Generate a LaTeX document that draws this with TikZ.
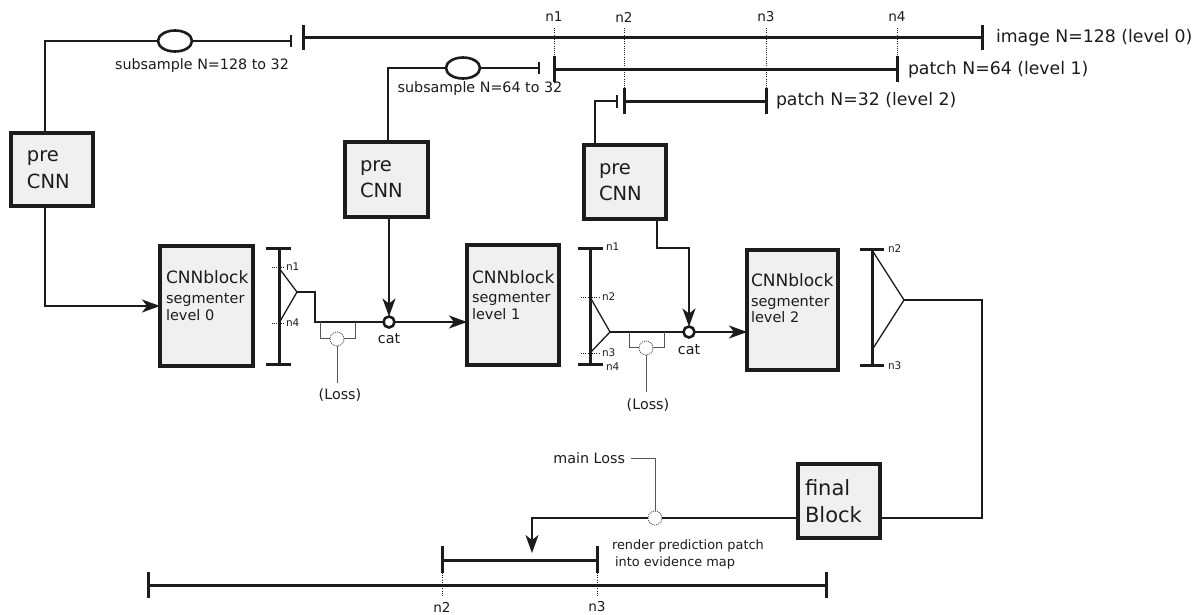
\documentclass[tikz,border=0pt]{standalone}
\usepackage{fontspec}
\setmainfont{DejaVu Sans}
\usetikzlibrary{arrows.meta,shapes.geometric}
\definecolor{boxfill}{HTML}{F0F0F0}
\definecolor{ink}{HTML}{1C1C1C}
\definecolor{lossgray}{HTML}{555555}
\newcommand{\fsz}[1]{\fontsize{#1}{#1}\selectfont}
\begin{document}
\begin{tikzpicture}[x=1pt,y=-1pt,
  every node/.style={inner sep=0pt,outer sep=0pt,text=ink},
  blk/.style={draw=ink,line width=4pt,fill=boxfill},
  thinl/.style={draw=ink,line width=1.3pt},
  thickl/.style={draw=ink,line width=3pt},
  dotl/.style={draw=ink,line width=0.9pt,dash pattern=on 1pt off 1.2pt},
  arr/.style={-{Stealth[length=18pt,width=13pt,inset=5pt]}},
  catnode/.style={circle,draw=ink,line width=2.6pt,fill=white,minimum size=11pt},
  lossnode/.style={circle,draw=lossgray,line width=0.9pt,dash pattern=on 1pt off 1pt,fill=white,minimum size=14pt},
  subnode/.style={ellipse,draw=ink,line width=2.6pt,fill=white,minimum width=34pt,minimum height=21pt},
  biglab/.style={font=\fsz{17.3}},
  nlab/.style={font=\fsz{13.6}},
  smalln/.style={font=\fsz{10.5}},
  midlab/.style={font=\fsz{14.3}},
]
\path[use as bounding box,fill=white] (0,0) rectangle (1200,614);

% ---------------- top ranges ----------------
% image level 0
\coordinate (imgL) at (303,37);
\coordinate (imgR) at (982,37);
\draw[thickl] (imgL) -- (imgR);
\draw[thickl] (303,25) -- (303,50);
\draw[thickl] (982,25) -- (982,50);
\node[biglab,anchor=west] (imglab) at (996,38) {image N=128 (level 0)};

% patch level 1
\coordinate (p1L) at (554,69);
\coordinate (p1R) at (897,69);
\draw[thickl] (p1L) -- (p1R);
\draw[thickl] (554,56) -- (554,82);
\draw[thickl] (897,56) -- (897,82);
\node[biglab,anchor=west] (p1lab) at (908,70) {patch N=64 (level 1)};

% patch level 2
\coordinate (p2L) at (624,101);
\coordinate (p2R) at (766,101);
\draw[thickl] (p2L) -- (p2R);
\draw[thickl] (624,88) -- (624,114);
\draw[thickl] (766,88) -- (766,114);
\node[biglab,anchor=west] (p2lab) at (776,101) {patch N=32 (level 2)};

% n labels
\node[nlab] (tn1) at (554,17) {n1};
\node[nlab] (tn2) at (624,17) {n2};
\node[nlab] (tn3) at (766,17) {n3};
\node[nlab] (tn4) at (897,17) {n4};
\draw[dotl] (554,28) -- (554,56);
\draw[dotl] (624,28) -- (624,88);
\draw[dotl] (766,28) -- (766,88);
\draw[dotl] (897,28) -- (897,56);

% ---------------- pre CNN boxes ----------------
\node[blk,minimum width=82pt,minimum height=73pt] (pre1) at (52,169.5) {};
\node[anchor=base west,font=\fsz{19.5}] (pre1a) at (27,161) {pre};
\node[anchor=base west,font=\fsz{19.5}] (pre1b) at (27,188) {CNN};

\node[blk,minimum width=83pt,minimum height=75pt] (pre2) at (386.5,179.5) {};
\node[anchor=base west,font=\fsz{19.5}] (pre2a) at (360,171) {pre};
\node[anchor=base west,font=\fsz{19.5}] (pre2b) at (360,197) {CNN};

\node[blk,minimum width=82pt,minimum height=74pt] (pre3) at (625,182) {};
\node[anchor=base west,font=\fsz{19.5}] (pre3a) at (599,174) {pre};
\node[anchor=base west,font=\fsz{19.5}] (pre3b) at (599,200) {CNN};

% subsample ellipses
\coordinate (tk1) at (291,41);
\node[subnode] (sub1) at (175,41) {};
\draw[thinl] ([xshift=-7pt]pre1.north) |- (sub1.west);
\draw[thinl] (sub1.east) -- (tk1);
\draw[thinl] (291,35) -- (291,47);
\node[midlab] (sub1lab) at (202,66) {subsample N=128 to 32};

\coordinate (tk2) at (539,68);
\node[subnode] (sub2) at (463,68) {};
\draw[thinl] ([xshift=1.5pt]pre2.north) |- (sub2.west);
\draw[thinl] (sub2.east) -- (tk2);
\draw[thinl] (539,62) -- (539,74);
\node[midlab] (sub2lab) at (480,89) {subsample N=64 to 32};

\coordinate (tk3) at (617,101);
\draw[thinl] ([xshift=-30pt]pre3.north) |- (tk3);
\draw[thinl] (617,95) -- (617,108);

% ---------------- CNN blocks ----------------
\node[blk,minimum width=93pt,minimum height=120pt] (blk0) at (206.5,306) {};
\node[anchor=base west,font=\fsz{17}] (blk0a) at (166,283) {CNNblock};
\node[anchor=base west,font=\fsz{14.5}] (blk0b) at (166,303) {segmenter};
\node[anchor=base west,font=\fsz{14.5}] (blk0c) at (166,320) {level 0};

\node[blk,minimum width=92pt,minimum height=120pt] (blk1) at (513,305) {};
\node[anchor=base west,font=\fsz{17}] (blk1a) at (472,283) {CNNblock};
\node[anchor=base west,font=\fsz{14.5}] (blk1b) at (472,302) {segmenter};
\node[anchor=base west,font=\fsz{14.5}] (blk1c) at (472,319) {level 1};

\node[blk,minimum width=91pt,minimum height=120pt] (blk2) at (792.5,310) {};
\node[anchor=base west,font=\fsz{17}] (blk2a) at (751,286) {CNNblock};
\node[anchor=base west,font=\fsz{14.5}] (blk2b) at (751,306) {segmenter};
\node[anchor=base west,font=\fsz{14.5}] (blk2c) at (751,322) {level 2};

% pre1 -> blk0
\draw[thinl,arr] ([xshift=-7pt]pre1.south) |- (blk0.west);

% ---------------- range bar 0 ----------------
\draw[thickl] (279,248) -- (279,364);
\draw[thickl] (266,248) -- (291,248);
\draw[thickl] (266,364) -- (291,364);
\draw[dotl] (272,267) -- (285,267);
\draw[dotl] (272,323) -- (285,323);
\node[smalln,anchor=west] (b0n1) at (286,267) {n1};
\node[smalln,anchor=west] (b0n4) at (286,323) {n4};
\coordinate (ap0) at (297,292);
\draw[thinl] (279,268) -- (ap0) -- (279,323);

\node[catnode] (cat1) at (389,322) {};
\node[midlab] (cat1lab) at (389,339) {cat};
\draw[thinl] (ap0) -- (315,292) |- (cat1.west);
% loss 0
\draw[draw=lossgray,line width=1pt] (320,322) |- (355,338) -- (355,322);
\node[lossnode] (loss0) at (337,339) {};
\draw[draw=lossgray,line width=1pt] (loss0.south) -- (337,383);
\node[midlab] (loss0lab) at (340,395) {(Loss)};

\draw[thinl,arr] (cat1.north |- pre2.south) -- (cat1.north);
\draw[thinl,arr] (cat1.east) -- (cat1.east -| blk1.west);

% ---------------- range bar 1 ----------------
\draw[thickl] (590,248) -- (590,364);
\draw[thickl] (578,248) -- (603,248);
\draw[thickl] (578,364) -- (603,364);
\draw[dotl] (581,297) -- (600,297);
\draw[dotl] (581,353) -- (600,353);
\node[smalln,anchor=west] (b1n1) at (606,247) {n1};
\node[smalln,anchor=west] (b1n2) at (602,297) {n2};
\node[smalln,anchor=west] (b1n3) at (602,353) {n3};
\node[smalln,anchor=west] (b1n4) at (606,367) {n4};
\coordinate (ap1) at (610,332);
\draw[thinl] (590,297) -- (ap1) -- (589,354);

\node[catnode] (cat2) at (689,332) {};
\node[midlab] (cat2lab) at (689,350) {cat};
\draw[thinl] (ap1) -- (cat2.west);
% loss 1
\draw[draw=lossgray,line width=1pt] (629,332) |- (664,347) -- (664,332);
\node[lossnode] (loss1) at (646,348) {};
\draw[draw=lossgray,line width=1pt] (loss1.south) -- (646,392);
\node[midlab] (loss1lab) at (648,405) {(Loss)};

\draw[thinl,arr] ([xshift=32pt]pre3.south) |- (cat2.north |- 0,248) -- (cat2.north);
\draw[thinl,arr] (cat2.east) -- (cat2.east -| blk2.west);

% ---------------- range bar 2 ----------------
\draw[thickl] (872,249) -- (872,365);
\draw[thickl] (860,249) -- (884,249);
\draw[thickl] (860,365) -- (884,365);
\node[smalln,anchor=west] (b2n2) at (888,249) {n2};
\node[smalln,anchor=west] (b2n3) at (888,366) {n3};
\coordinate (ap2) at (904,300);
\draw[thinl] (872,250) -- (ap2) -- (872,350);

% ---------------- final block ----------------
\node[blk,minimum width=82pt,minimum height=74pt] (fin) at (839,501) {};
\node[anchor=base west,font=\fsz{21}] (fina) at (805,495) {final};
\node[anchor=base west,font=\fsz{21}] (finb) at (805,522) {Block};

\draw[thinl] (ap2) -- (982,300) |- ([yshift=-17pt]fin.east);

\node[lossnode] (mloss) at (655,518) {};
\coordinate (arrend) at (532,553);
\draw[thinl] ([yshift=-17pt]fin.west) -- (mloss.east);
\draw[thinl,arr] (mloss.west) -| (arrend);
\node[midlab,anchor=east] (mlosslab) at (625,458) {main Loss};
\draw[draw=lossgray,line width=1pt] (631,458) -| (mloss.north);

% ---------------- bottom ranges ----------------
\coordinate (bpL) at (442,560);
\coordinate (bpR) at (597,560);
\draw[thickl] (bpL) -- (bpR);
\draw[thickl] (442,546) -- (442,573);
\draw[thickl] (597,546) -- (597,573);

\coordinate (bmL) at (148,585);
\coordinate (bmR) at (826,585);
\draw[thickl] (bmL) -- (bmR);
\draw[thickl] (148,572) -- (148,598);
\draw[thickl] (826,572) -- (826,598);
\draw[dotl] (442,573) -- (442,596);
\draw[dotl] (597,573) -- (597,596);
\node[nlab] (bn2) at (442,607) {n2};
\node[nlab] (bn3) at (597,607) {n3};

\node[font=\fsz{12.9},anchor=west] (rend1) at (612,546) {render prediction patch};
\node[font=\fsz{12.9},anchor=west] (rend2) at (615,563) {into evidence map};
\end{tikzpicture}
\end{document}
